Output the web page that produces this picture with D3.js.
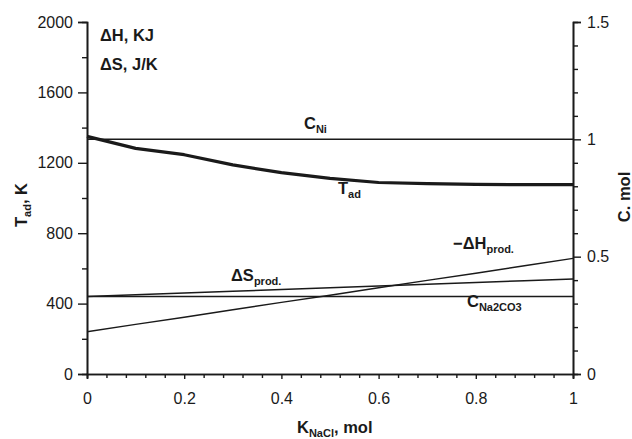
<!DOCTYPE html>
<html>
<head>
<meta charset="utf-8">
<script src="https://cdn.jsdelivr.net/npm/d3@7"></script>
<style>
  body { margin: 0; background: #fff; }
  svg text { font-family: "Liberation Sans", Arial, sans-serif; fill: #1a1a1a; }
</style>
</head>
<body>
<svg id="chart"></svg>
<script>
// K_NaCl, mol
const kNaCl = [0, 0.1, 0.2, 0.3, 0.4, 0.5, 0.6, 0.7, 0.8, 0.9, 1.0];
// Adiabatic temperature, K (left axis)
const tAd = [1350, 1282, 1246, 1188, 1144, 1112, 1088, 1082, 1077, 1076, 1076];
// Entropy of products, J/K (left axis)
const dSprod = [440, 450, 460, 470, 480, 490, 500, 510, 520, 530, 540];
// -Enthalpy of products, KJ (left axis)
const negDHprod = [240, 282, 323, 365, 407, 448, 490, 532, 573, 615, 657];
// concentrations, mol (right axis)
const cNi = [1, 1, 1, 1, 1, 1, 1, 1, 1, 1, 1];
const cNa2CO3 = [0.33, 0.33, 0.33, 0.33, 0.33, 0.33, 0.33, 0.33, 0.33, 0.33, 0.33];

const leftMajor = [0, 400, 800, 1200, 1600, 2000];
const leftMinor = [200, 600, 1000, 1400, 1800];
const rightMajor = [0, 0.5, 1, 1.5];
const rightMinor = [0.1, 0.2, 0.3, 0.4, 0.6, 0.7, 0.8, 0.9, 1.1, 1.2, 1.3, 1.4];
const xMajor = [0, 0.2, 0.4, 0.6, 0.8, 1];
const xMinor = d3.range(0.04, 1, 0.04).map(v => +v.toFixed(2)).filter(v => !xMajor.includes(v));

const width = 632, height = 439;
const margin = { top: 22, right: 59, bottom: 65, left: 87 };
const W = width - margin.left - margin.right;
const H = height - margin.top - margin.bottom;

const svg = d3.select("#chart").attr("width", width).attr("height", height);
const g = svg.append("g").attr("transform", `translate(${margin.left},${margin.top})`);

const x = d3.scaleLinear().domain([0, 1]).range([0, W]);
const yL = d3.scaleLinear().domain([0, 2000]).range([H, 0]);
const yR = d3.scaleLinear().domain([0, 1.5]).range([H, 0]);

// Axes
function styleAxis(sel) {
  sel.select(".domain").attr("stroke", "#1a1a1a").attr("stroke-width", 1.6);
  sel.selectAll(".tick line").attr("stroke", "#1a1a1a").attr("stroke-width", 1.4);
  sel.selectAll(".tick text").style("font-size", "16px").attr("fill", "#222");
}

g.append("g")
  .call(d3.axisLeft(yL).tickValues(leftMinor).tickSize(5).tickFormat(""))
  .call(styleAxis);
g.append("g")
  .call(d3.axisLeft(yL).tickValues(leftMajor).tickSize(9).tickPadding(5).tickFormat(d3.format("d")))
  .call(styleAxis);

g.append("g").attr("transform", `translate(${W},0)`)
  .call(d3.axisRight(yR).tickValues(rightMinor).tickSize(5).tickFormat(""))
  .call(styleAxis);
g.append("g").attr("transform", `translate(${W},0)`)
  .call(d3.axisRight(yR).tickValues(rightMajor).tickSize(8).tickPadding(6).tickFormat(d => String(d)))
  .call(styleAxis);

g.append("g").attr("transform", `translate(0,${H})`)
  .call(d3.axisBottom(x).tickValues(xMinor).tickSize(4).tickFormat(""))
  .call(styleAxis);
g.append("g").attr("transform", `translate(0,${H})`)
  .call(d3.axisBottom(x).tickValues(xMajor).tickSize(5).tickPadding(14).tickFormat(d => String(d)))
  .call(styleAxis);

// Lines
const lineL = vals => d3.line().x((d, i) => x(kNaCl[i])).y(d => yL(d))(vals);
const lineR = vals => d3.line().x((d, i) => x(kNaCl[i])).y(d => yR(d))(vals);

const series = [
  { path: lineR(cNi), w: 1.5 },
  { path: lineR(cNa2CO3), w: 1.5 },
  { path: lineL(dSprod), w: 1.5 },
  { path: lineL(negDHprod), w: 1.5 },
  { path: lineL(tAd), w: 3.2 }
];
g.selectAll(".series")
  .data(series)
  .enter()
  .append("path")
  .attr("class", "series")
  .attr("d", d => d.path)
  .attr("fill", "none")
  .attr("stroke", "#1a1a1a")
  .attr("stroke-width", d => d.w)
  .attr("stroke-linejoin", "round");

// Labels with subscripts
function label(px, py, main, sub, anchor) {
  const t = svg.append("text")
    .attr("x", px).attr("y", py)
    .attr("text-anchor", anchor || "start")
    .style("font-size", "16.5px")
    .style("font-weight", "bold");
  t.append("tspan").text(main);
  if (sub) t.append("tspan").attr("dy", 4).style("font-size", "11px").text(sub);
  return t;
}

label(100, 41, "\u0394H, KJ");
label(100, 70, "\u0394S, J/K");
label(304, 129, "C", "Ni");
label(338, 194, "T", "ad");
label(231, 281, "\u0394S", "prod.");
label(453, 249, "\u2212\u0394H", "prod.");
label(467, 307, "C", "Na2CO3");

// Axis titles
label(297, 433, "K", "NaCl").append("tspan").attr("dy", -4).text(", mol");

label(0, 0, "T", "ad").attr("transform", "translate(27,227) rotate(-90)")
  .append("tspan").attr("dy", -4).text(", K");

label(0, 0, "C. mol").attr("transform", "translate(630,197) rotate(-90)").attr("text-anchor", "middle");
</script>
</body>
</html>
